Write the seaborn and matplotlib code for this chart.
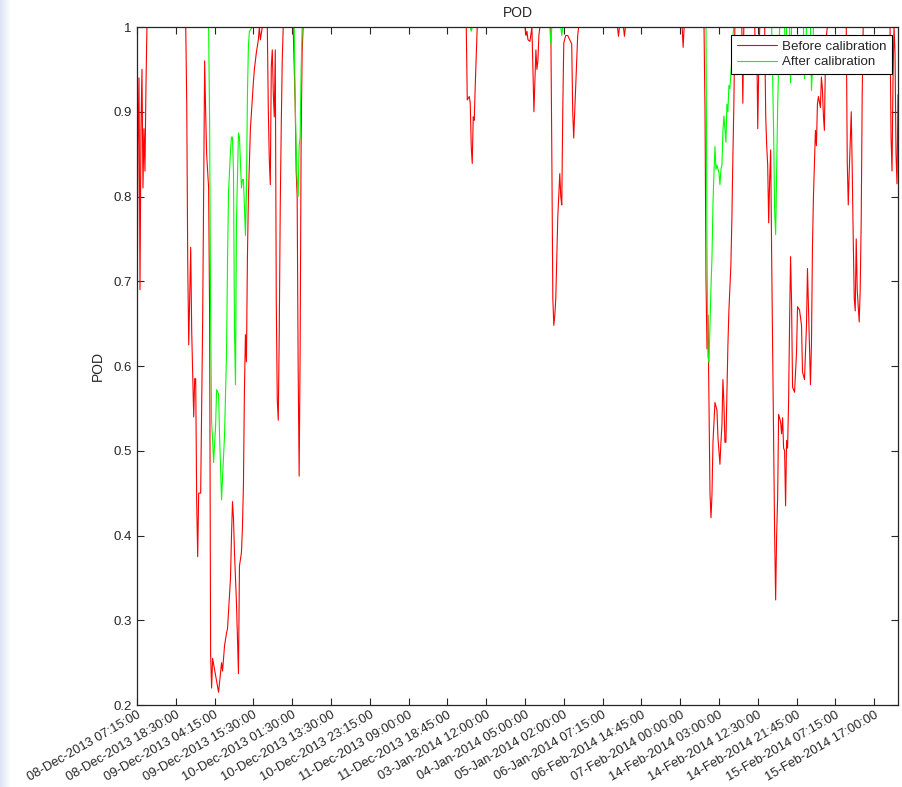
import numpy as np
import pandas as pd
import matplotlib
matplotlib.use("Agg")
import matplotlib.pyplot as plt
import seaborn as sns

# Sample index (15-minute steps, gaps removed) and probability of detection
red_idx = [0, 1, 2, 3, 4, 5, 6, 7, 8, 9, 10,
           49, 50, 51, 52, 54, 55, 57, 58, 59, 60, 61, 62, 64, 66, 67, 68, 69, 70, 72,
           73, 74, 75, 76, 79, 82, 85, 86, 88, 90, 91, 93, 94, 95, 96, 97, 98, 100,
           102, 103, 105, 106, 107, 108, 109, 110, 111, 112, 113, 114, 117, 118, 120,
           122, 123, 124, 126, 131, 132, 133, 134, 135, 136, 137, 138, 139, 140, 141,
           142, 143, 144, 145, 146, 147, 157, 159, 160, 161, 162, 163, 164, 165, 166, 167,
           331, 332, 334, 335, 336, 337, 338, 339, 340, 342,
           390, 391, 392, 393, 395, 397, 398, 399, 401, 402, 403, 404, 405,
           416, 417, 418, 419, 420, 421, 423, 425, 426, 427, 428, 429, 431, 433, 435,
           437, 438, 439, 441, 443, 444,
           483, 484, 485, 489, 490, 491, 548, 549, 550,
           570, 571, 572, 573, 574, 575, 576, 577, 578, 579, 581, 583, 584, 586, 587,
           588, 589, 590, 591, 592, 593, 594, 595, 597, 598, 599, 600, 601,
           608, 609, 610, 621, 622, 623, 624, 625, 626,
           631, 632, 633, 634, 635, 636, 637, 638, 639, 640, 641, 642, 643, 644, 645,
           647, 648, 649, 650, 651, 652, 653, 654, 655, 656, 657, 658, 659, 661, 663,
           664, 666, 668, 669, 671, 673, 674, 675, 677, 678, 679, 680, 681, 682, 683,
           684, 685, 687, 688, 689, 690, 691, 692, 693, 694,
           713, 714, 715, 716, 718, 719, 720, 721, 722, 723, 724, 726, 727, 728, 729, 730,
           757, 758, 759, 760, 761, 762, 763, 764, 765]
red_pod = [0.615, 0.86, 0.94, 0.69, 0.88, 0.95, 0.81, 0.88, 0.83, 0.93, 1.0,
           1.0, 0.91, 0.72, 0.625, 0.74, 0.64, 0.54, 0.585, 0.585, 0.44, 0.375, 0.45, 0.45,
           0.653, 0.81, 0.96, 0.90, 0.85, 0.81,
           0.66, 0.26, 0.22, 0.255, 0.235, 0.215, 0.25, 0.24, 0.27, 0.285, 0.29, 0.33,
           0.35, 0.40, 0.44, 0.42, 0.38, 0.32,
           0.237, 0.364, 0.38, 0.41, 0.46, 0.572, 0.637, 0.605, 0.728, 0.80, 0.84, 0.88,
           0.935, 0.95, 0.97,
           0.985, 1.0, 0.985, 1.0, 1.0, 0.902, 0.843, 0.814, 0.953, 0.973, 0.922, 0.894,
           0.973, 0.678, 0.56,
           0.536, 0.64, 0.788, 0.882, 0.961, 1.0, 1.0, 0.91, 0.83, 0.80, 0.60, 0.47,
           0.62, 0.87, 0.97, 1.0,
           1.0, 0.914, 0.918, 0.91, 0.859, 0.839, 0.894, 0.89, 0.93, 1.0,
           1.0, 0.99, 0.995, 0.985, 0.983, 1.0, 0.95, 0.90, 0.973, 0.95, 0.96, 0.99, 1.0,
           1.0, 0.85, 0.68, 0.648, 0.66, 0.68, 0.776, 0.827, 0.80, 0.79, 0.90, 0.981,
           0.99, 0.99, 0.985,
           0.98, 0.90, 0.869, 0.93, 0.99, 1.0,
           1.0, 0.989, 1.0, 1.0, 0.989, 1.0, 1.0, 0.976, 1.0,
           1.0, 0.90, 0.70, 0.62, 0.66, 0.56, 0.45, 0.421, 0.448, 0.51, 0.557, 0.548,
           0.516, 0.484, 0.51,
           0.53, 0.584, 0.557, 0.51, 0.51, 0.566, 0.624, 0.665, 0.719, 0.773, 0.846,
           0.909, 1.0,
           1.0, 0.91, 1.0, 1.0, 0.95, 0.99, 0.88, 0.95, 1.0,
           1.0, 0.895, 0.86, 0.837, 0.769, 0.82, 0.855, 0.728, 0.62, 0.50, 0.40, 0.324,
           0.40, 0.444, 0.543,
           0.534, 0.52, 0.539, 0.503, 0.50, 0.435, 0.512, 0.503, 0.557, 0.65, 0.729,
           0.675, 0.575, 0.569, 0.616,
           0.67, 0.666, 0.648, 0.593, 0.584, 0.648, 0.715, 0.67, 0.578, 0.625, 0.74,
           0.80, 0.84, 0.878, 0.86,
           0.909, 0.918, 0.905, 0.941, 0.927, 0.896, 0.878, 0.955, 0.99, 1.0,
           1.0, 0.84, 0.79, 0.83, 0.90, 0.83, 0.75, 0.68, 0.665, 0.75, 0.69, 0.652,
           0.69, 0.77, 0.92, 1.0,
           1.0, 0.87, 0.83, 0.94, 1.0, 0.97, 0.85, 0.815, 0.92]

green_idx = [0, 72, 73, 74, 75, 76, 77, 79, 80, 82, 83, 85, 86, 88, 90, 91, 92, 94, 95,
             96, 97, 98, 99, 100, 102, 103, 105, 106, 107, 109, 110, 111, 112, 113, 116,
             158, 159, 160, 161, 162, 163, 164, 165, 166,
             335, 336, 337, 415, 416, 417, 426, 427, 428,
             572, 573, 574, 575, 577, 578, 579, 580, 581, 582, 583, 585, 586, 587, 588,
             589, 590, 592, 593, 594, 595, 596, 598, 599, 600,
             638, 639, 640, 641, 642, 643, 644, 645, 646,
             651, 652, 653, 656, 657, 658, 670, 671, 672, 673, 677, 678, 679, 680, 765]
green_pod = [1.0, 1.0, 0.886, 0.66, 0.534, 0.513, 0.486, 0.529, 0.572, 0.567, 0.518,
             0.442, 0.469, 0.518, 0.616, 0.724, 0.805, 0.854, 0.87,
             0.87, 0.827, 0.643, 0.578, 0.77, 0.875, 0.87, 0.81, 0.82, 0.82, 0.754,
             0.805, 0.919, 0.978, 0.995, 1.0,
             1.0, 0.915, 0.858, 0.82, 0.80, 0.86, 0.87, 0.95, 1.0,
             1.0, 0.995, 1.0, 1.0, 0.98, 1.0, 1.0, 0.99, 1.0,
             1.0, 0.737, 0.611, 0.604, 0.692, 0.728, 0.791, 0.828, 0.859, 0.832, 0.837,
             0.828, 0.814, 0.832, 0.837,
             0.877, 0.895, 0.864, 0.909, 0.90, 0.931, 0.927, 0.963, 0.99, 1.0,
             1.0, 0.94, 0.873, 0.782, 0.755, 0.828, 0.904, 0.954, 1.0,
             1.0, 0.955, 1.0, 1.0, 0.934, 1.0, 1.0, 0.939, 0.96, 1.0, 1.0, 0.925, 0.95,
             1.0, 1.0]

series_names = ["Before calibration", "After calibration"]

tick_step = 39
tick_labels = [
    "08-Dec-2013 07:15:00", "08-Dec-2013 18:30:00", "09-Dec-2013 04:15:00",
    "09-Dec-2013 15:30:00", "10-Dec-2013 01:30:00", "10-Dec-2013 13:30:00",
    "10-Dec-2013 23:15:00", "11-Dec-2013 09:00:00", "11-Dec-2013 18:45:00",
    "03-Jan-2014 12:00:00", "04-Jan-2014 05:00:00", "05-Jan-2014 02:00:00",
    "06-Jan-2014 07:15:00", "06-Feb-2014 14:45:00", "07-Feb-2014 00:00:00",
    "14-Feb-2014 03:00:00", "14-Feb-2014 12:30:00", "14-Feb-2014 21:45:00",
    "15-Feb-2014 07:15:00", "15-Feb-2014 17:00:00",
]
y_ticks = [0.2, 0.3, 0.4, 0.5, 0.6, 0.7, 0.8, 0.9, 1.0]
y_tick_labels = ["0.2", "0.3", "0.4", "0.5", "0.6", "0.7", "0.8", "0.9", "1"]

df = pd.concat([
    pd.DataFrame({"idx": red_idx, "pod": red_pod, "series": series_names[0]}),
    pd.DataFrame({"idx": green_idx, "pod": green_pod, "series": series_names[1]}),
], ignore_index=True)

sns.set_style("white")
plt.rcParams["font.family"] = ["Liberation Sans", "DejaVu Sans"]

W, H = 903, 787
fig = plt.figure(figsize=(W / 100, H / 100), dpi=100)
fig.patch.set_facecolor("white")

# soft bluish strip along the left edge of the window
strip = fig.add_axes([0, 0, 11 / W, 1])
grad = np.linspace(0, 1, 64)[None, :, None]
c0 = np.array([0.86, 0.89, 0.96])[None, None, :]
c1 = np.array([1.0, 1.0, 1.0])[None, None, :]
strip.imshow(c0 * (1 - grad) + c1 * grad, aspect="auto", extent=[0, 1, 0, 1])
strip.axis("off")

ax = fig.add_axes([137 / W, 1 - 705 / H, 761 / W, 678 / H])
sns.lineplot(data=df, x="idx", y="pod", hue="series", hue_order=series_names,
             palette={series_names[0]: (1, 0, 0), series_names[1]: (0, 1, 0)},
             estimator=None, sort=False, linewidth=0.8, ax=ax)

ax.set_xlim(0, 765)
ax.set_ylim(0.2, 1.0)
ax.set_xticks([i * tick_step for i in range(len(tick_labels))])
ax.set_xticklabels(tick_labels, rotation=30, ha="right", va="top",
                   rotation_mode="anchor", fontsize=9.3)
ax.set_yticks(y_ticks)
ax.set_yticklabels(y_tick_labels, fontsize=9.5)
ax.tick_params(direction="in", length=5, width=0.8, color="#262626",
               top=True, right=True, bottom=True, left=True, pad=4)
ax.tick_params(axis="x", pad=3)
for s in ax.spines.values():
    s.set_linewidth(0.9)
    s.set_color("#262626")
    s.set_visible(True)

ax.set_title("POD", fontsize=10, pad=7)
ax.set_xlabel("")
ax.set_ylabel("POD", fontsize=10, labelpad=6)

handles, labels = ax.get_legend_handles_labels()
leg = ax.legend(handles, labels, loc="upper right", bbox_to_anchor=(0.992, 0.988),
                borderaxespad=0, frameon=True, fancybox=False, framealpha=1,
                edgecolor="black", fontsize=9.6, handlelength=3.0, handletextpad=0.4,
                borderpad=0.4, labelspacing=0.25)
leg.get_frame().set_linewidth(0.8)

fig.savefig("out.png", dpi=100, facecolor="white")
